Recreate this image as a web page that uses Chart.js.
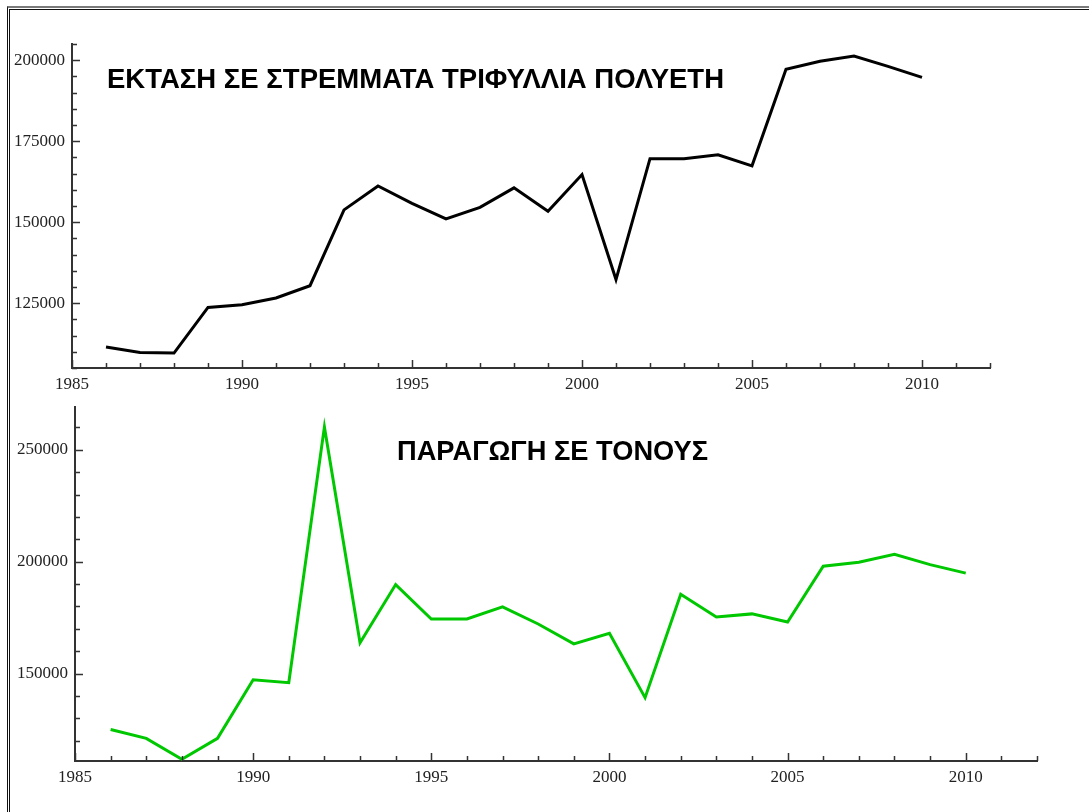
<!DOCTYPE html>
<html>
<head>
<meta charset="utf-8">
<script src="https://cdn.jsdelivr.net/npm/chart.js@4/dist/chart.umd.min.js"></script>
<style>
  html, body { margin: 0; padding: 0; background: #fff; }
  body { width: 1089px; height: 812px; position: relative; overflow: hidden; }
  .frame1 { position: absolute; left: 7px; top: 6px; width: 1200px; height: 900px;
            border-top: 2px solid #7a7a7a; border-left: 1px solid #111; }
  .frame2 { position: absolute; left: 9px; top: 9px; width: 1200px; height: 900px;
            border-top: 1px solid #111; border-left: 1px solid #111; }
  .box { position: absolute; left: 0; }
  #c1box { top: 0; width: 1089px; height: 400px; }
  #c2box { top: 390px; width: 1089px; height: 422px; }
</style>
</head>
<body>
<div class="frame1"></div>
<div class="frame2"></div>
<div class="box" id="c1box"><canvas id="c1" width="1089" height="400"></canvas></div>
<div class="box" id="c2box"><canvas id="c2" width="1089" height="422"></canvas></div>
<script>
// ---- data ----
const years = [1986,1987,1988,1989,1990,1991,1992,1993,1994,1995,1996,1997,1998,1999,2000,2001,2002,2003,2004,2005,2006,2007,2008,2009,2010];
const areaStremmata = [111500,109800,109600,123700,124500,126600,130400,153800,161200,155800,151000,154600,160600,153400,164700,132300,169600,169600,170800,167400,197200,199700,201300,198100,194700];
const productionTons = [125100,121100,111800,121100,147300,146000,260200,163800,189800,174400,174400,179800,172200,163300,168000,139300,185500,175300,176700,173100,198000,199800,203300,198700,194900];
const xTickLabels = [1985,1990,1995,2000,2005,2010];
const yTickLabelsTop = [125000,150000,175000,200000];
const yTickLabelsBottom = [150000,200000,250000];
const titleTop = 'ΕΚΤΑΣΗ ΣΕ ΣΤΡΕΜΜΑΤΑ ΤΡΙΦΥΛΛΙΑ ΠΟΛΥΕΤΗ';
const titleBottom = 'ΠΑΡΑΓΩΓΗ ΣΕ ΤΟΝΟΥΣ';

// ---- plugins ----
const innerTicks = {
  id: 'innerTicks',
  afterDraw(chart, args, o) {
    const ctx = chart.ctx, xs = chart.scales.x, ys = chart.scales.y;
    ctx.save();
    ctx.strokeStyle = o.color; ctx.lineWidth = o.width;
    ctx.beginPath();
    xs.ticks.forEach(t => {
      const p = Math.round(xs.getPixelForValue(t.value)) + 0.5;
      const len = o.xMajor.includes(t.value) ? o.major : o.minor;
      ctx.moveTo(p, xs.top); ctx.lineTo(p, xs.top - len);
    });
    ys.ticks.forEach(t => {
      const p = Math.round(ys.getPixelForValue(t.value)) + 0.5;
      const len = o.yMajor.includes(t.value) ? o.major : o.minor;
      ctx.moveTo(ys.right, p); ctx.lineTo(ys.right + len, p);
    });
    ctx.stroke();
    ctx.restore();
  }
};
const innerTitle = {
  id: 'innerTitle',
  afterDraw(chart, args, o) {
    const ctx = chart.ctx;
    ctx.save();
    ctx.fillStyle = o.color;
    ctx.font = o.font;
    ctx.textAlign = 'left';
    ctx.textBaseline = 'alphabetic';
    ctx.fillText(o.text, o.x, o.y, o.maxWidth);
    ctx.restore();
  }
};

const tickFont = { family: '"Liberation Serif", "Times New Roman", serif', size: 17 };

function makeChart(id, values, color, cfg) {
  return new Chart(document.getElementById(id), {
    type: 'line',
    data: {
      labels: years,
      datasets: [{
        data: years.map((y, i) => ({ x: y, y: values[i] })),
        borderColor: color, borderWidth: 3, pointRadius: 0, tension: 0, fill: false,
        borderJoinStyle: 'miter'
      }]
    },
    options: {
      responsive: false, animation: false, devicePixelRatio: 1,
      layout: { padding: cfg.padding },
      plugins: {
        legend: { display: false }, tooltip: { enabled: false }, title: { display: false },
        innerTicks: { color: '#333', width: 1.5, major: 8, minor: 5, xMajor: xTickLabels, yMajor: cfg.yLabels },
        innerTitle: { text: cfg.title, x: cfg.titleX, y: cfg.titleY, maxWidth: cfg.titleW, color: '#000',
                      font: 'bold 28px "Liberation Sans", Arial, sans-serif' }
      },
      scales: {
        x: {
          type: 'linear', min: 1985, max: 2012,
          afterBuildTicks: s => { const t = []; for (let v = 1985; v <= 2012; v++) t.push({ value: v }); s.ticks = t; },
          afterFit: s => { s.height = cfg.xHeight; },
          grid: { display: false, drawTicks: false },
          border: { display: true, color: '#333', width: 2 },
          ticks: { autoSkip: false, maxRotation: 0, padding: 6, color: '#222', font: tickFont,
                   callback: v => xTickLabels.includes(v) ? String(v) : '' }
        },
        y: {
          type: 'linear', min: cfg.yMin, max: cfg.yMax,
          afterBuildTicks: s => { const t = []; for (let v = Math.ceil(cfg.yMin / cfg.yStep) * cfg.yStep; v <= cfg.yMax; v += cfg.yStep) t.push({ value: v }); s.ticks = t; },
          afterFit: s => { s.width = cfg.yWidth; },
          grid: { display: false, drawTicks: false },
          border: { display: true, color: '#333', width: 2 },
          ticks: { autoSkip: false, padding: 7, color: '#222', font: tickFont,
                   callback: v => cfg.yLabels.includes(v) ? String(v) : '' }
        }
      }
    },
    plugins: [innerTicks, innerTitle]
  });
}

makeChart('c1', areaStremmata, '#000000', {
  padding: { top: 44, right: 99, left: 0, bottom: 0 },
  xHeight: 32, yWidth: 72, yMin: 105000, yMax: 205000, yStep: 5000, yLabels: yTickLabelsTop,
  title: titleTop, titleX: 107, titleY: 88, titleW: 617
});
makeChart('c2', productionTons, '#00c800', {
  padding: { top: 15, right: 52, left: 0, bottom: 0 },
  xHeight: 51, yWidth: 75, yMin: 111000, yMax: 269000, yStep: 10000, yLabels: yTickLabelsBottom,
  title: titleBottom, titleX: 397, titleY: 70, titleW: 311
});
</script>
</body>
</html>
